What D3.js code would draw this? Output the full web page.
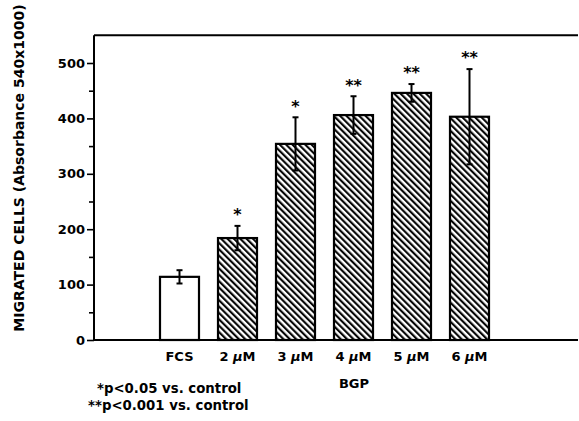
<!DOCTYPE html>
<html>
<head>
<meta charset="utf-8">
<script src="https://cdn.jsdelivr.net/npm/d3@7"></script>
<style>
  body { margin: 0; background: #fff; }
  text { font-family: "DejaVu Sans", sans-serif; font-weight: bold; fill: #000; }
</style>
</head>
<body>
<svg id="chart" width="579" height="421"></svg>
<script>
// data
var groups = ["FCS", "2", "3", "4", "5", "6"];
var means = [114, 184, 354, 406, 446, 403];
var errs = [12, 22, 48, 34, 16, 86];
var stars = ["", "*", "*", "**", "**", "**"];
var hatched = [false, true, true, true, true, true];
var yMajor = [0, 100, 200, 300, 400, 500];
var yMinor = [50, 150, 250, 350, 450];
var notes = ["*p<0.05 vs. control", "**p<0.001 vs. control"];

var svg = d3.select("#chart");
var left = 94, right = 578;

var y = d3.scaleLinear().domain([0, 550]).range([340, 35.3]);
var x = d3.scaleBand().domain(groups).range([160, 489]).paddingInner(0.3276).paddingOuter(0);

// hatch fill
var pat = svg.append("defs").append("pattern")
  .attr("id", "hatch")
  .attr("patternUnits", "userSpaceOnUse")
  .attr("width", 4.5).attr("height", 4.5)
  .attr("patternTransform", "rotate(-45)");
pat.append("rect").attr("width", 4.5).attr("height", 4.5).attr("fill", "#fff");
pat.append("line").attr("x1", 1.1).attr("y1", 0).attr("x2", 1.1).attr("y2", 4.5)
  .attr("stroke", "#000").attr("stroke-width", 2.1);

// frame lines
svg.append("line").attr("x1", left).attr("x2", right).attr("y1", y(550)).attr("y2", y(550))
  .attr("stroke", "#000").attr("stroke-width", 2);
svg.append("line").attr("x1", left).attr("x2", right).attr("y1", y(0)).attr("y2", y(0))
  .attr("stroke", "#000").attr("stroke-width", 2);

// y axis
var yAxis = svg.append("g").attr("transform", "translate(" + left + ",0)")
  .call(d3.axisLeft(y).tickValues(yMajor).tickSize(7).tickPadding(2).tickFormat(d3.format("d")));
yAxis.select(".domain").attr("stroke-width", 2).attr("d", "M0," + y(0) + "V" + y(550));
yAxis.selectAll(".tick line").attr("stroke-width", 1.6);
yAxis.selectAll(".tick text").attr("font-size", 13).attr("font-family", null);
svg.append("g").attr("transform", "translate(" + left + ",0)")
  .call(d3.axisLeft(y).tickValues(yMinor).tickSize(5).tickFormat(""))
  .call(g => g.select(".domain").remove())
  .selectAll(".tick line").attr("stroke-width", 1.6);

// bars
svg.selectAll("rect.bar").data(groups).enter().append("rect")
  .attr("class", "bar")
  .attr("x", d => x(d))
  .attr("width", x.bandwidth())
  .attr("y", (d, i) => y(means[i]))
  .attr("height", (d, i) => y(0) - y(means[i]))
  .attr("fill", (d, i) => hatched[i] ? "url(#hatch)" : "#fff")
  .attr("stroke", "#000").attr("stroke-width", 2.2);

// error bars
var eb = svg.append("g").attr("stroke", "#000").attr("stroke-width", 2);
groups.forEach(function(g, i) {
  var cx = x(g) + x.bandwidth() / 2;
  var hi = y(means[i] + errs[i]), lo = y(means[i] - errs[i]);
  eb.append("line").attr("x1", cx).attr("x2", cx).attr("y1", hi).attr("y2", lo);
  eb.append("line").attr("x1", cx - 3).attr("x2", cx + 3).attr("y1", hi).attr("y2", hi);
  eb.append("line").attr("x1", cx - 3).attr("x2", cx + 3).attr("y1", lo).attr("y2", lo);
  if (stars[i]) {
    svg.append("text").attr("x", cx).attr("y", hi - 15 + 9.4)
      .attr("text-anchor", "middle").attr("font-size", 16).text(stars[i]);
  }
});

// category labels
groups.forEach(function(g) {
  var t = svg.append("text").attr("x", x(g) + x.bandwidth() / 2).attr("y", 361)
    .attr("text-anchor", "middle").attr("font-size", 13);
  if (g === "FCS") { t.text(g); return; }
  t.append("tspan").text(g + " ");
  t.append("tspan").attr("font-style", "italic").text("\u00b5");
  t.append("tspan").text("M");
});

svg.append("text").attr("x", 354).attr("y", 388).attr("text-anchor", "middle")
  .attr("font-size", 13).text("BGP");

// footnotes
svg.append("text").attr("x", 97).attr("y", 393).attr("font-size", 13.3).text(notes[0]);
svg.append("text").attr("x", 88).attr("y", 410).attr("font-size", 13.3).text(notes[1]);

// y title
svg.append("text")
  .attr("transform", "translate(24,168) rotate(-90)")
  .attr("text-anchor", "middle").attr("font-size", 14)
  .text("MIGRATED CELLS (Absorbance 540x1000)");
</script>
</body>
</html>
